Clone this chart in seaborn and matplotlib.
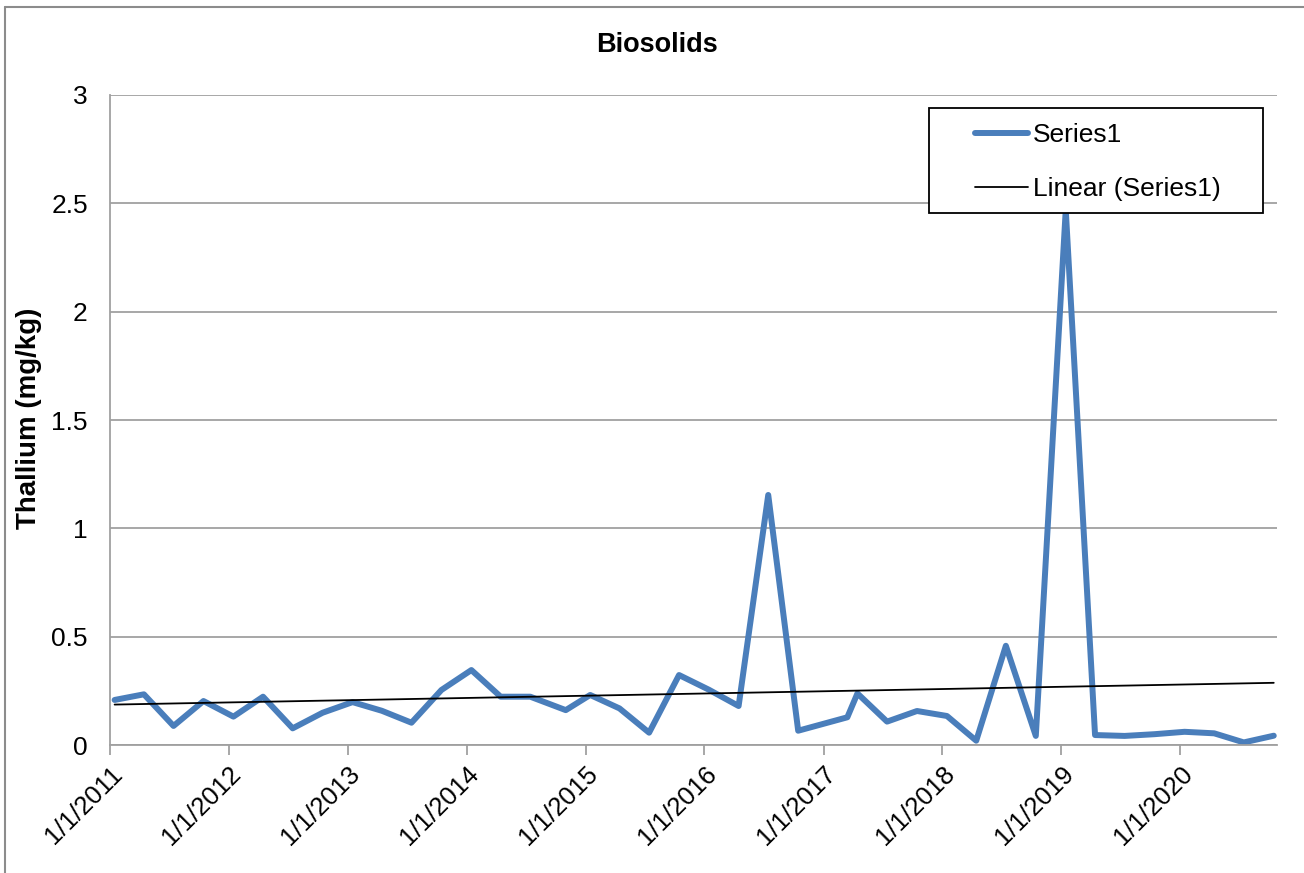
import numpy as np
import pandas as pd
import matplotlib

matplotlib.use('Agg')
import matplotlib.pyplot as plt
import matplotlib.dates as mdates
from matplotlib.lines import Line2D
from matplotlib.patches import Rectangle
import seaborn as sns

# sample dates and thallium values
dates = ["2011-01-15", "2011-04-15", "2011-07-15", "2011-10-15",
         "2012-01-15", "2012-04-15", "2012-07-15", "2012-10-15",
         "2013-01-15", "2013-04-15", "2013-07-15", "2013-10-15",
         "2014-01-15", "2014-04-15", "2014-07-15", "2014-11-01",
         "2015-01-15", "2015-04-15", "2015-07-15", "2015-10-15",
         "2016-01-15", "2016-04-15", "2016-07-15", "2016-10-15",
         "2017-03-15", "2017-04-15", "2017-07-15", "2017-10-15",
         "2018-01-15", "2018-04-15", "2018-07-15", "2018-10-15",
         "2019-01-15", "2019-04-15", "2019-07-15", "2019-10-15",
         "2020-01-15", "2020-04-15", "2020-07-15", "2020-10-15"]
thallium = [0.208, 0.234, 0.088, 0.203, 0.131, 0.223, 0.077, 0.149,
            0.198, 0.158, 0.103, 0.254, 0.346, 0.223, 0.223, 0.161,
            0.231, 0.169, 0.057, 0.323, 0.255, 0.180, 1.154, 0.066,
            0.128, 0.238, 0.108, 0.157, 0.134, 0.020, 0.458, 0.042,
            2.470, 0.046, 0.042, 0.050, 0.061, 0.054, 0.012, 0.043]
tick_years = list(range(2011, 2021))

df = pd.DataFrame({"date": pd.to_datetime(dates), "Series1": thallium})
xnum = mdates.date2num(df["date"])
slope, intercept = np.polyfit(xnum, df["Series1"], 1)
df["trend"] = slope * xnum + intercept

sns.set_style("white")
plt.rcParams['font.family'] = ['Liberation Sans', 'DejaVu Sans']
plt.rcParams['text.color'] = 'black'
plt.rcParams['axes.labelcolor'] = 'black'
plt.rcParams['xtick.color'] = 'black'
plt.rcParams['ytick.color'] = 'black'

fig = plt.figure(figsize=(13.04, 8.73), dpi=100)
ax = fig.add_axes([0.0844, 0.1466, 0.8949, 0.7446])

blue = "#4A7EBB"
grey = "#A0A0A0"
sns.lineplot(data=df, x="date", y="Series1", ax=ax, color=blue, lw=4.3, legend=False)
sns.lineplot(data=df, x="date", y="trend", ax=ax, color="black", lw=1.3, legend=False)

ax.set_ylim(0, 3)
ax.set_yticks(np.arange(0, 3.01, 0.5))
ax.set_yticklabels(["0", "0.5", "1", "1.5", "2", "2.5", "3"])
ax.set_xlim(pd.Timestamp("2011-01-01"), pd.Timestamp("2020-10-25"))
ax.set_xticks(pd.to_datetime([f"{y}-01-01" for y in tick_years]))
ax.set_xticklabels([f"1/1/{y}" for y in tick_years], rotation=45, ha="right",
                   rotation_mode="anchor")
ax.yaxis.grid(True, color=grey, lw=1.3)
ax.xaxis.grid(False)
for s in ["top", "right"]:
    ax.spines[s].set_visible(False)
for s in ["left", "bottom"]:
    ax.spines[s].set_color(grey)
    ax.spines[s].set_linewidth(1.3)
ax.tick_params(axis="x", bottom=True, length=7, width=1.3, color=grey,
               labelcolor="black", labelsize=18.5, pad=5)
ax.tick_params(axis="y", left=False, labelsize=19, pad=12.5, labelcolor="black")

ax.set_xlabel("")
ax.set_ylabel("Thallium (mg/kg)", fontsize=20, fontweight="bold")
ax.yaxis.set_label_coords(-0.058, 0.503)
fig.text(0.5036, 0.949, "Biosolids", ha="center", va="center", fontsize=19.5,
         fontweight="bold")

# legend box drawn like the spreadsheet one
ax.add_patch(Rectangle((0.702, 0.818), 0.286, 0.162, transform=ax.transAxes,
                       facecolor="white", edgecolor="black", lw=1.3, zorder=5))
handles = [Line2D([], [], color=blue, lw=4.3, solid_capstyle="round"),
           Line2D([], [], color="black", lw=1.3)]
leg = ax.legend(handles, ["Series1", "Linear (Series1)"], loc="upper left",
                bbox_to_anchor=(0.741, 0.957), fontsize=19, frameon=False,
                handlelength=2.0, handletextpad=0.2, borderpad=0, labelspacing=1.15,
                borderaxespad=0)
leg.set_zorder(6)

# outer chart border (left and top edges visible)
fig.add_artist(Line2D([5 / 1304, 5 / 1304], [0, 1 - 6.5 / 873], color="#8C8C8C", lw=1.5))
fig.add_artist(Line2D([5 / 1304, 1], [1 - 6.5 / 873, 1 - 6.5 / 873], color="#8C8C8C", lw=1.5))

fig.savefig("out.png", dpi=100)
